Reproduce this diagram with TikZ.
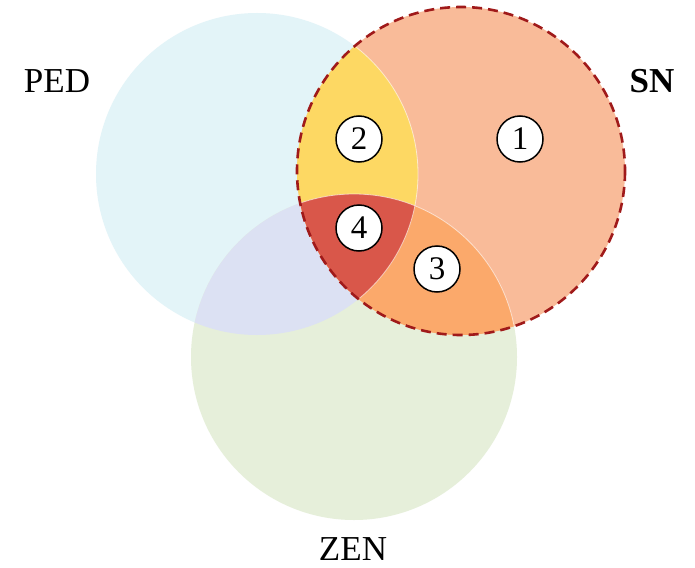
\documentclass[tikz,border=0pt]{standalone}
\usepackage{fontspec}
\setmainfont{Liberation Serif}
\definecolor{pedc}{HTML}{E3F4F8}
\definecolor{zenc}{HTML}{E6EFDA}
\definecolor{pzc}{HTML}{DCE1F3}
\definecolor{snc}{HTML}{F9BB99}
\definecolor{spc}{HTML}{FDD863}
\definecolor{szc}{HTML}{FBA96B}
\definecolor{allc}{HTML}{D9574A}
\definecolor{dashc}{HTML}{A01A1A}
\tikzset{
  num/.style={circle, draw=black, line width=1.5pt, fill=white, minimum size=46pt, inner sep=0pt, font=\fontsize{33}{33}\selectfont},
  setlabel/.style={font=\fontsize{35}{35}\selectfont, inner sep=0pt},
}
\begin{document}
\begin{tikzpicture}[x=1pt,y=-1pt]
\useasboundingbox (0,0) rectangle (695,567);
\fill[white] (0,0) rectangle (695,567);
\def\PED{(257,174) circle (161)}
\def\SN{(461,171) circle (164)}
\def\ZEN{(354,357) circle (163)}
\fill[pedc] \PED;
\fill[zenc] \ZEN;
\begin{scope}
  \clip \PED;
  \fill[pzc] \ZEN;
\end{scope}
\fill[snc] \SN;
\begin{scope}
  \clip \SN;
  \fill[spc] \PED;
  \fill[szc] \ZEN;
  \clip \PED;
  \fill[allc] \ZEN;
\end{scope}
\begin{scope}
  \clip \SN;
  \draw[white, opacity=0.6, line width=0.8pt] \PED;
  \draw[white, opacity=0.6, line width=0.8pt] \ZEN;
\end{scope}
\draw[dashc, line width=2.6pt, dash pattern=on 10pt off 6pt] \SN;
\node[num] (n1) at (520,139) {1};
\node[num] (n2) at (359,139) {2};
\node[num] (n3) at (437,269) {3};
\node[num] (n4) at (359,228) {4};
\node[setlabel] (ped) at (57,81) {PED};
\node[setlabel] (sn) at (652,81) {\textbf{SN}};
\node[setlabel] (zen) at (353,549) {ZEN};
\end{tikzpicture}
\end{document}
